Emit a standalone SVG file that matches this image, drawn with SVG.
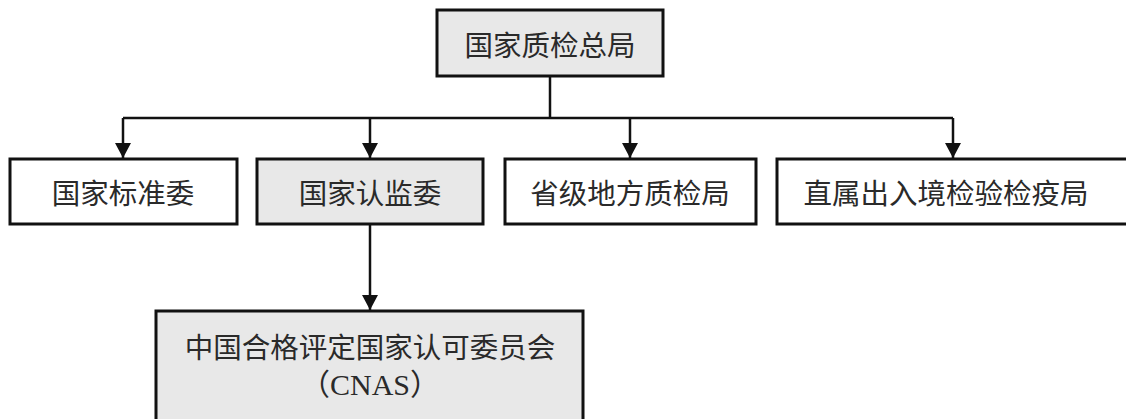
<svg xmlns="http://www.w3.org/2000/svg" width="1126" height="419" viewBox="0 0 1126 419">
<style>
.box{stroke:#111;stroke-width:3;}
.g{fill:#e8e8e8;}
.w{fill:#ffffff;}
.t{font-family:"Noto Sans CJK SC","Noto Sans CJK JP",sans-serif;font-size:28.5px;fill:#2a2a2a;text-anchor:middle;dominant-baseline:central;}
.s{font-family:"Liberation Serif","Noto Sans CJK SC",serif;font-size:30px;}
.c{stroke:#111;stroke-width:2.5;fill:none;}
</style>
<defs>
<marker id="ah" viewBox="0 0 15 16" refX="15" refY="8" markerWidth="15" markerHeight="16" markerUnits="userSpaceOnUse" orient="auto">
<path d="M0,0 L15,8 L0,16 Z" fill="#111"/>
</marker>
</defs>
<rect width="1126" height="419" fill="#ffffff"/>
<g id="connectors">
<path class="c" d="M550,77 V118"/>
<path class="c" d="M123,118 H953"/>
<path class="c" d="M123,118 V158" marker-end="url(#ah)"/>
<path class="c" d="M370,118 V158" marker-end="url(#ah)"/>
<path class="c" d="M630,118 V158" marker-end="url(#ah)"/>
<path class="c" d="M953,118 V158" marker-end="url(#ah)"/>
<path class="c" d="M370,225 V310" marker-end="url(#ah)"/>
</g>
<g id="n0">
<rect class="box g" x="437" y="10" width="226" height="66"/>
<text class="t" x="550" y="43">国家质检总局</text>
</g>
<g id="n1">
<rect class="box w" x="10" y="159" width="227" height="65"/>
<text class="t" x="123" y="191">国家标准委</text>
</g>
<g id="n2">
<rect class="box g" x="257" y="159" width="226" height="65"/>
<text class="t" x="370" y="191">国家认监委</text>
</g>
<g id="n3">
<rect class="box w" x="505" y="159" width="251" height="65"/>
<text class="t" x="630" y="191">省级地方质检局</text>
</g>
<g id="n4">
<rect class="box w" x="777" y="159" width="360" height="65"/>
<text class="t" x="946" y="191">直属出入境检验检疫局</text>
</g>
<g id="n5">
<rect class="box g" x="156" y="311" width="427" height="110"/>
<text class="t" x="370" y="345">中国合格评定国家认可委员会</text>
<text class="t s" x="370" y="384">（CNAS）</text>
</g>
</svg>
